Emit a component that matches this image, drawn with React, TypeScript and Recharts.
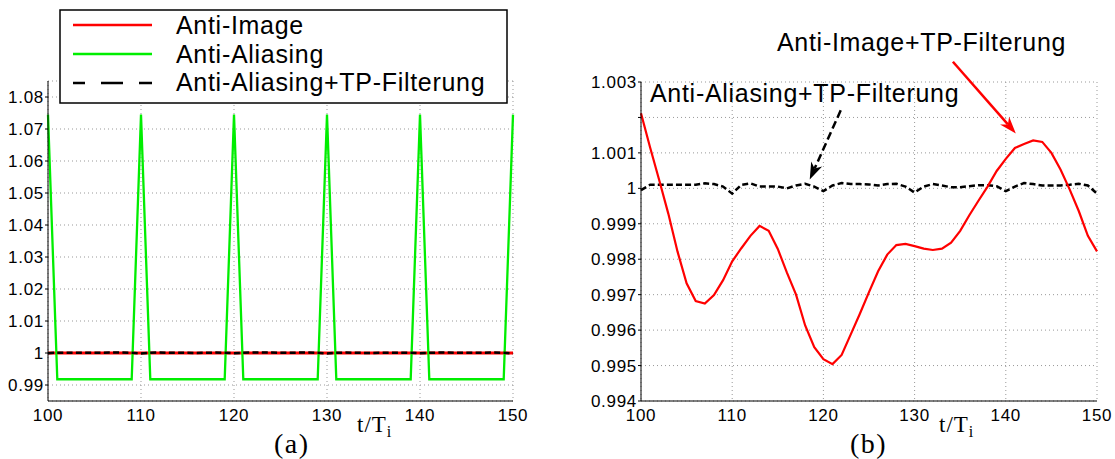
import { LineChart, Line, XAxis, YAxis, CartesianGrid, ReferenceLine } from "recharts";

// t/Ti sample points
const tValues = [
  100, 101, 102, 103, 104, 105, 106, 107, 108, 109,
  110, 111, 112, 113, 114, 115, 116, 117, 118, 119,
  120, 121, 122, 123, 124, 125, 126, 127, 128, 129,
  130, 131, 132, 133, 134, 135, 136, 137, 138, 139,
  140, 141, 142, 143, 144, 145, 146, 147, 148, 149,
  150,
];

// (a) Anti-Image
const antiImage = [
  1, 1, 1, 1, 1, 1, 1, 1, 1, 1,
  1, 1, 1, 1, 1, 1, 1, 1, 1, 1,
  1, 1, 1, 1, 1, 1, 1, 1, 1, 1,
  1, 1, 1, 1, 1, 1, 1, 1, 1, 1,
  1, 1, 1, 1, 1, 1, 1, 1, 1, 1,
  1,
];

// (a) Anti-Aliasing
const antiAliasing = [
  1.0745, 0.9918, 0.9918, 0.9918, 0.9918, 0.9918, 0.9918, 0.9918, 0.9918, 0.9918,
  1.0745, 0.9918, 0.9918, 0.9918, 0.9918, 0.9918, 0.9918, 0.9918, 0.9918, 0.9918,
  1.0745, 0.9918, 0.9918, 0.9918, 0.9918, 0.9918, 0.9918, 0.9918, 0.9918, 0.9918,
  1.0745, 0.9918, 0.9918, 0.9918, 0.9918, 0.9918, 0.9918, 0.9918, 0.9918, 0.9918,
  1.0745, 0.9918, 0.9918, 0.9918, 0.9918, 0.9918, 0.9918, 0.9918, 0.9918, 0.9918,
  1.0745,
];

// Anti-Aliasing+TP-Filterung (both panels)
const antiAliasingTP = [
  0.99995, 1.0001, 1.0001, 1.0001, 1.0001, 1.0001, 1.0001, 1.00014, 1.00012, 1.00005,
  0.99985, 1.0001, 1.00014, 1.00005, 1.00005, 1.00005, 1.0, 1.00008, 1.00013, 1.00005,
  0.99992, 1.00008, 1.00015, 1.00012, 1.00012, 1.00011, 1.00008, 1.00012, 1.00013, 1.00005,
  0.99988, 1.00005, 1.00012, 1.00008, 1.00003, 1.00003, 1.00006, 1.00009, 1.00009, 1.00006,
  0.99992, 1.00005, 1.00015, 1.00012, 1.00008, 1.00008, 1.00008, 1.0001, 1.00013, 1.00008,
  0.99985,
];

// (b) Anti-Image+TP-Filterung
const antiImageTP = [
  1.00212, 1.00115, 1.00023, 0.99928, 0.99822, 0.99732, 0.99682, 0.99675, 0.99699, 0.99741,
  0.99794, 0.99831, 0.99866, 0.99894, 0.99880, 0.99829, 0.99762, 0.99700, 0.99613, 0.99552,
  0.99518, 0.99504, 0.99530, 0.99588, 0.99646, 0.99707, 0.99766, 0.99813, 0.99840, 0.99843,
  0.99837, 0.99830, 0.99826, 0.99830, 0.99847, 0.99880, 0.99924, 0.99965, 1.00005, 1.00049,
  1.00083, 1.00114, 1.00125, 1.00135, 1.00131, 1.00100, 1.00053, 0.99997, 0.99936, 0.99866,
  0.99822,
];

const xTicks = [100, 110, 120, 130, 140, 150];
const leftYTicks = [0.99, 1, 1.01, 1.02, 1.03, 1.04, 1.05, 1.06, 1.07, 1.08];
const rightYTicks = [0.994, 0.995, 0.996, 0.997, 0.998, 0.999, 1, 1.001, 1.002, 1.003];
const hiddenRightTick = 1.002;

const legendLabels = ["Anti-Image", "Anti-Aliasing", "Anti-Aliasing+TP-Filterung"];
const annotationImage = "Anti-Image+TP-Filterung";
const annotationAliasing = "Anti-Aliasing+TP-Filterung";

// arrow end points in data coords [t, value]
const imageArrow = [
  { x: 134.2, y: 1.00357 },
  { x: 141.1, y: 1.00155 },
];
const aliasingArrow = [
  { x: 121.9, y: 1.0022 },
  { x: 118.5, y: 1.00025 },
];

const leftData = tValues.map((t, i) => ({
  t,
  antiImage: antiImage[i],
  antiAliasing: antiAliasing[i],
  antiAliasingTP: antiAliasingTP[i],
}));

const rightData = tValues.map((t, i) => ({
  t,
  antiImageTP: antiImageTP[i],
  antiAliasingTP: antiAliasingTP[i],
}));

const SANS = "'Liberation Sans', Arial, Helvetica, sans-serif";
const SERIF = "'Liberation Serif', 'Times New Roman', serif";

const tickStyle = { fill: "#000", fontSize: 17 };

function ArrowShape(props: any) {
  const { x1, y1, x2, y2, color, dash } = props;
  const dx = x2 - x1;
  const dy = y2 - y1;
  const len = Math.hypot(dx, dy) || 1;
  const ux = dx / len;
  const uy = dy / len;
  const nx = -uy;
  const ny = ux;
  const L = 17;
  const W = 6;
  const bx = x2 - ux * L;
  const by = y2 - uy * L;
  const mx = x2 - ux * (L - 5);
  const my = y2 - uy * (L - 5);
  const pts = [
    `${x2},${y2}`,
    `${bx + nx * W},${by + ny * W}`,
    `${mx},${my}`,
    `${bx - nx * W},${by - ny * W}`,
  ].join(" ");
  return (
    <g>
      <line x1={x1} y1={y1} x2={mx} y2={my} stroke={color} strokeWidth={2.5} strokeDasharray={dash} />
      <polygon points={pts} fill={color} stroke="none" />
    </g>
  );
}

export default function App() {
  return (
    <div style={{ position: "absolute", left: 0, top: 0, width: 1115, height: 459, background: "#fff" }}>
      <div style={{ position: "absolute", left: 0, top: 0 }}>
        <LineChart
          width={560}
          height={459}
          data={leftData}
          margin={{ top: 81, right: 47, bottom: 28, left: 0 }}
          style={{ fontFamily: SANS, letterSpacing: "0.7px" }}
        >
          <CartesianGrid stroke="#999" strokeDasharray="1 3" />
          <XAxis
            dataKey="t"
            type="number"
            domain={[100, 150]}
            ticks={xTicks}
            height={30}
            stroke="#000"
            tick={tickStyle}
            tickSize={3}
            tickMargin={5}
            tickLine={false}
          />
          <YAxis
            type="number"
            domain={[0.985, 1.085]}
            ticks={leftYTicks}
            width={48}
            stroke="#000"
            tick={tickStyle}
            tickSize={3}
            tickMargin={1}
            tickFormatter={(v: number) => String(Number(v.toFixed(2)))}
          />
          <Line type="linear" dataKey="antiImage" stroke="#ff0000" strokeWidth={3} dot={false} isAnimationActive={false} />
          <Line type="linear" dataKey="antiAliasing" stroke="#00ee00" strokeWidth={2.3} dot={false} isAnimationActive={false} />
          <Line type="linear" dataKey="antiAliasingTP" stroke="#000" strokeWidth={2.5} strokeDasharray="6 3.3" dot={false} isAnimationActive={false} />
        </LineChart>
      </div>

      <div style={{ position: "absolute", left: 560, top: 0 }}>
        <LineChart
          width={555}
          height={459}
          data={rightData}
          margin={{ top: 82, right: 18, bottom: 28, left: 0 }}
          style={{ fontFamily: SANS, letterSpacing: "0.7px" }}
        >
          <CartesianGrid stroke="#999" strokeDasharray="1 3" />
          <XAxis
            dataKey="t"
            type="number"
            domain={[100, 150]}
            ticks={xTicks}
            height={30}
            stroke="#000"
            tick={tickStyle}
            tickSize={3}
            tickMargin={5}
            tickLine={false}
          />
          <YAxis
            type="number"
            domain={[0.994, 1.003]}
            ticks={rightYTicks}
            width={81}
            stroke="#000"
            tick={tickStyle}
            tickSize={3}
            tickMargin={1}
            tickFormatter={(v: number) =>
              Math.abs(v - hiddenRightTick) < 1e-7 ? "" : String(Number(v.toFixed(3)))
            }
          />
          <Line type="linear" dataKey="antiAliasingTP" stroke="#000" strokeWidth={2.5} strokeDasharray="6 3.1" dot={false} isAnimationActive={false} />
          <Line type="linear" dataKey="antiImageTP" stroke="#ff0000" strokeWidth={2.2} dot={false} isAnimationActive={false} />
          <ReferenceLine
            segment={imageArrow}
            ifOverflow="visible"
            shape={(p: any) => <ArrowShape {...p} color="#ff0000" />}
          />
          <ReferenceLine
            segment={aliasingArrow}
            ifOverflow="visible"
            shape={(p: any) => <ArrowShape {...p} color="#000" dash="8 4" />}
          />
        </LineChart>
      </div>

      <svg
        width={1115}
        height={459}
        style={{ position: "absolute", left: 0, top: 0, pointerEvents: "none" }}
      >
        {/* legend of panel (a) */}
        <rect x={60} y={10} width={447} height={93} fill="#fff" stroke="#000" strokeWidth={1.5} />
        <line x1={73} y1={25} x2={152} y2={25} stroke="#ff0000" strokeWidth={2.5} />
        <line x1={73} y1={54} x2={152} y2={54} stroke="#00ee00" strokeWidth={2.5} />
        <line x1={73} y1={83} x2={152} y2={83} stroke="#000" strokeWidth={2.5} strokeDasharray="22 16" strokeDashoffset={10} />
        <g fontFamily={SANS} fontSize={25} fill="#000" style={{ letterSpacing: "0.7px" }}>
          <text x={176} y={34}>{legendLabels[0]}</text>
          <text x={176} y={63}>{legendLabels[1]}</text>
          <text x={176} y={91}>{legendLabels[2]}</text>
          <text x={777} y={51}>{annotationImage}</text>
          <text x={650} y={102}>{annotationAliasing}</text>
        </g>

        {/* axis titles and panel captions */}
        <g fontFamily={SERIF} fill="#000" style={{ letterSpacing: "1px" }}>
          <text x={357} y={432} fontSize={23}>
            t/T<tspan fontSize={16} dy={5}>i</tspan>
          </text>
          <text x={939} y={432} fontSize={23}>
            t/T<tspan fontSize={16} dy={5}>i</tspan>
          </text>
          <text x={274} y={453} fontSize={28} style={{ letterSpacing: "1.5px" }}>(a)</text>
          <text x={850} y={453} fontSize={28} style={{ letterSpacing: "1.5px" }}>(b)</text>
        </g>
      </svg>
    </div>
  );
}
